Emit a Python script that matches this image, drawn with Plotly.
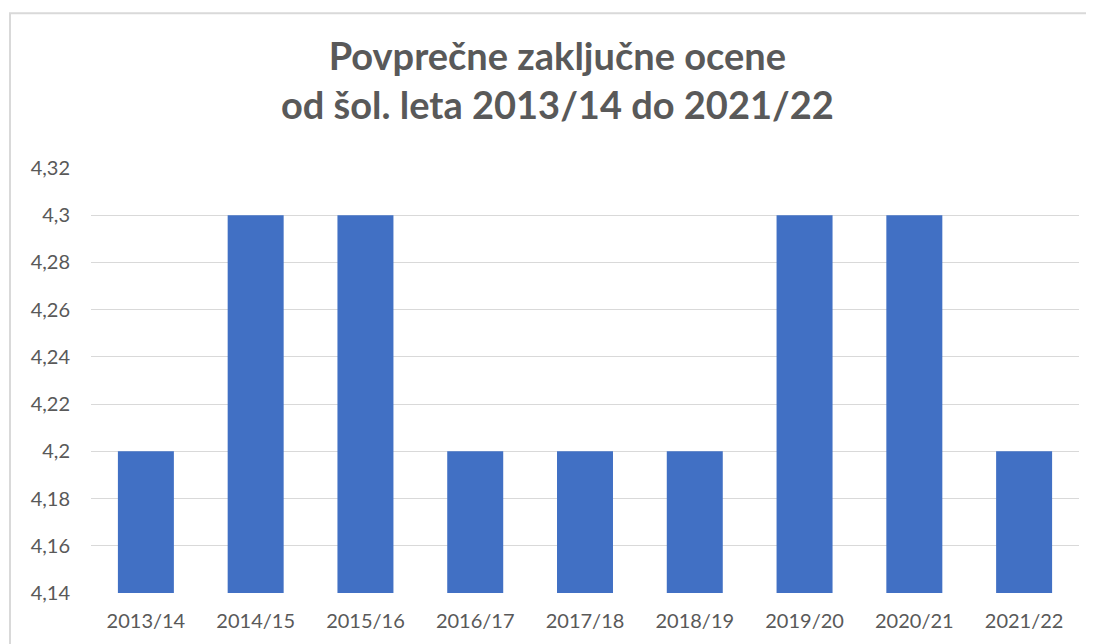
import plotly.graph_objects as go

categories = ["2013/14", "2014/15", "2015/16", "2016/17", "2017/18",
              "2018/19", "2019/20", "2020/21", "2021/22"]
values = [4.2, 4.3, 4.3, 4.2, 4.2, 4.2, 4.3, 4.3, 4.2]
y_tick_vals = [4.14, 4.16, 4.18, 4.2, 4.22, 4.24, 4.26, 4.28, 4.3, 4.32]
y_tick_text = ["4,14", "4,16", "4,18", "4,2", "4,22", "4,24", "4,26", "4,28", "4,3", "4,32"]
title_text = "Povprečne zaključne ocene<br>od šol. leta 2013/14 do 2021/22"

FONT = "Lato, 'Open Sans', sans-serif"
GREY = "#595959"

fig = go.Figure(go.Bar(
    x=categories, y=values,
    marker=dict(color="#4170c4", line=dict(width=0)),
))

fig.update_layout(
    width=1086, height=636,
    margin=dict(l=83, r=15, t=160, b=45),
    paper_bgcolor="white", plot_bgcolor="white",
    bargap=0.49,
    showlegend=False,
    title=dict(text="<b>" + title_text + "</b>", x=0.472, xref="paper", xanchor="center",
               y=0.903, yref="container", yanchor="middle",
               font=dict(family=FONT, size=38, color=GREY)),
    font=dict(family=FONT, color=GREY, size=20),
    xaxis=dict(showgrid=False, showline=False, ticks="", ticklabelstandoff=14,
               tickfont=dict(size=20, color=GREY)),
    yaxis=dict(range=[4.14, 4.32], tickvals=y_tick_vals, ticktext=y_tick_text,
               showgrid=True, gridcolor="#d9d9d9", gridwidth=1, zeroline=False,
               showline=False, ticks="", ticklabelstandoff=20,
               tickfont=dict(size=20, color=GREY)),
    shapes=[dict(type="rect", xref="paper", yref="paper",
                 x0=-0.082, x1=1.2, y0=-0.5, y1=1.364,
                 line=dict(color="#d9d9d9", width=2), layer="below")],
)

fig.write_html("out.html")
